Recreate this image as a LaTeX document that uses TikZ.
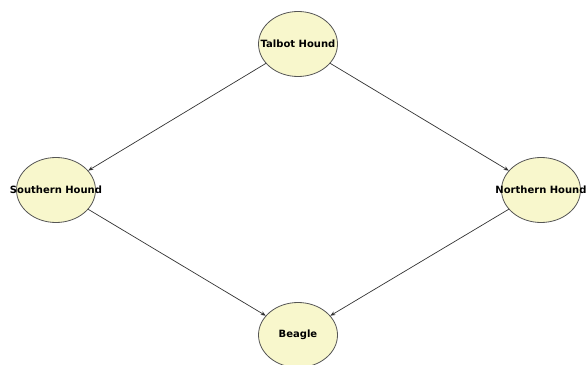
\documentclass[tikz,border=0pt]{standalone}
\usepackage{fontspec}
\setmainfont{DejaVu Sans}
\usetikzlibrary{arrows.meta,shapes.geometric}
\definecolor{nodefill}{HTML}{F8F7CC}
\definecolor{nodeedge}{HTML}{555555}
\definecolor{edgecol}{HTML}{333333}
\tikzset{
  dognode/.style={ellipse, draw=nodeedge, line width=0.8pt, fill=nodefill, minimum width=79pt, minimum height=65pt, inner sep=0pt},
  doglabel/.style={inner sep=0pt, font=\bfseries\fontsize{10}{10}\selectfont},
  edge/.style={draw=edgecol, line width=0.7pt, -{Stealth[length=5pt,width=4pt]}}
}
\begin{document}
\begin{tikzpicture}[x=1pt,y=1pt]
\useasboundingbox (0,0) rectangle (586,364);
\begin{scope}
\clip (0,0) rectangle (586,353);
\node[dognode] (talbot) at (298,320) {};
\end{scope}
\node[dognode] (southern) at (56,174) {};
\node[dognode] (northern) at (541,174) {};
\node[dognode] (beagle) at (298,29) {};
\node[doglabel] (talbotlbl) at (talbot) {Talbot Hound};
\node[doglabel] (southernlbl) at (southern) {Southern Hound};
\node[doglabel] (northernlbl) at (northern) {Northern Hound};
\node[doglabel] (beaglelbl) at (beagle) {Beagle};
\draw[edge] (talbot) -- (southern);
\draw[edge] (talbot) -- (northern);
\draw[edge] (southern) -- (beagle);
\draw[edge] (northern) -- (beagle);
\end{tikzpicture}
\end{document}
